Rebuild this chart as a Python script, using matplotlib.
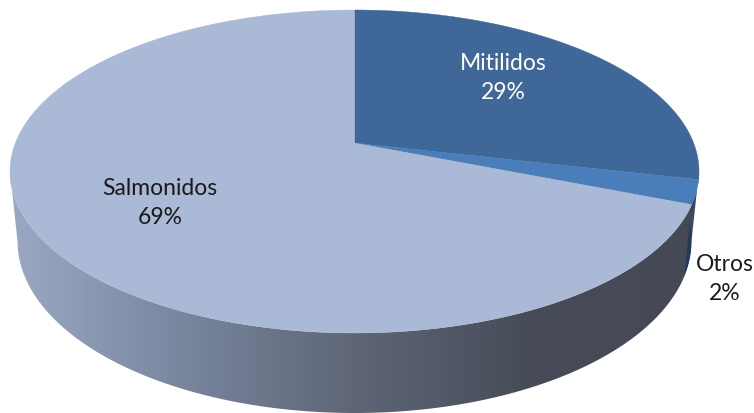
import numpy as np
import matplotlib
matplotlib.use('Agg')
import matplotlib.pyplot as plt
from matplotlib.colors import LinearSegmentedColormap
from matplotlib.patches import Polygon

plt.rcParams['font.family'] = ['Lato', 'DejaVu Sans']

categories = ['Mitilidos', 'Otros', 'Salmonidos']
values = [28.6, 2.4, 69.0]
face_colors = ['#3F6797', '#4A7EBB', '#A9B9D6']
text_colors = ['white', '#1a1a1a', '#1a1a1a']
label_pos = [(503, 78), (725, 279), (160, 203)]

# perspective of the pie: top and bottom ellipse, in pixels
top = dict(cx=354.5, cy=171.5, rx=344.5, ry=161.5)
bottom = dict(cx=354.5, cy=241, rx=337, ry=172)
tilt = -0.176


def rim(frac, e):
    # frac is clockwise from 12 o'clock; circle goes through a tilt so the
    # centre of the pie moves away from the centre of the ellipse
    a = 2 * np.pi * np.asarray(frac, dtype=float)
    x, y = np.sin(a), -np.cos(a)
    d = 1 + tilt * y
    xp = x * np.sqrt(1 - tilt ** 2) / d
    yp = (y + tilt) / d
    return np.column_stack([e['cx'] + e['rx'] * xp, e['cy'] + e['ry'] * yp])


def half_ellipse(e, t0, t1, n=200):
    t = np.linspace(t0, t1, n)
    return np.column_stack([e['cx'] + e['rx'] * np.cos(t), e['cy'] + e['ry'] * np.sin(t)])


fig = plt.figure(figsize=(7.54, 4.13), dpi=100)
ax = fig.add_axes([0, 0, 1, 1])
ax.set_xlim(0, 754)
ax.set_ylim(413, 0)
ax.axis('off')

# side wall with the horizontal shading
hull = np.vstack([half_ellipse(top, 0, np.pi), half_ellipse(bottom, np.pi, 0)])
side = Polygon(hull, closed=True, fc='none', ec='none')
ax.add_patch(side)
cmap = LinearSegmentedColormap.from_list('side', [
    (0.00, '#9AA8C4'), (0.27, '#76839B'), (0.50, '#5E6676'),
    (0.75, '#474C58'), (1.00, '#444955')])
grad = ax.imshow(np.linspace(0, 1, 400).reshape(1, -1), cmap=cmap, aspect='auto',
                 extent=(10, 699, 413, 0), zorder=1)
grad.set_clip_path(side)
ax.set_xlim(0, 754)
ax.set_ylim(413, 0)

# dark sliver of the small slice on the right
start = sum(values[:1]) / 100
end = sum(values[:2]) / 100
sliver = np.vstack([rim(np.linspace(start, end, 20), top),
                    rim(np.linspace(end, 0.26, 20), bottom)])
patch = Polygon(sliver, closed=True, fc='#1F3A5F', ec='none', zorder=2)
ax.add_patch(patch)
patch.set_clip_path(side)

# top faces
apex = np.array([[top['cx'], top['cy'] + top['ry'] * tilt]])
cum = 0
for v, c in zip(values, face_colors):
    fr = np.linspace(cum, cum + v, 300) / 100
    pts = np.vstack([apex, rim(fr, top)])
    ax.add_patch(Polygon(pts, closed=True, fc=c, ec=c, lw=0.3, zorder=3))
    cum += v

for name, v, c, (x, y) in zip(categories, values, text_colors, label_pos):
    ax.text(x, y, f'{name}\n{round(v)}%', color=c, fontsize=16.5, ha='center', va='center',
            linespacing=1.42, zorder=5)

fig.savefig('out.png', dpi=100)
